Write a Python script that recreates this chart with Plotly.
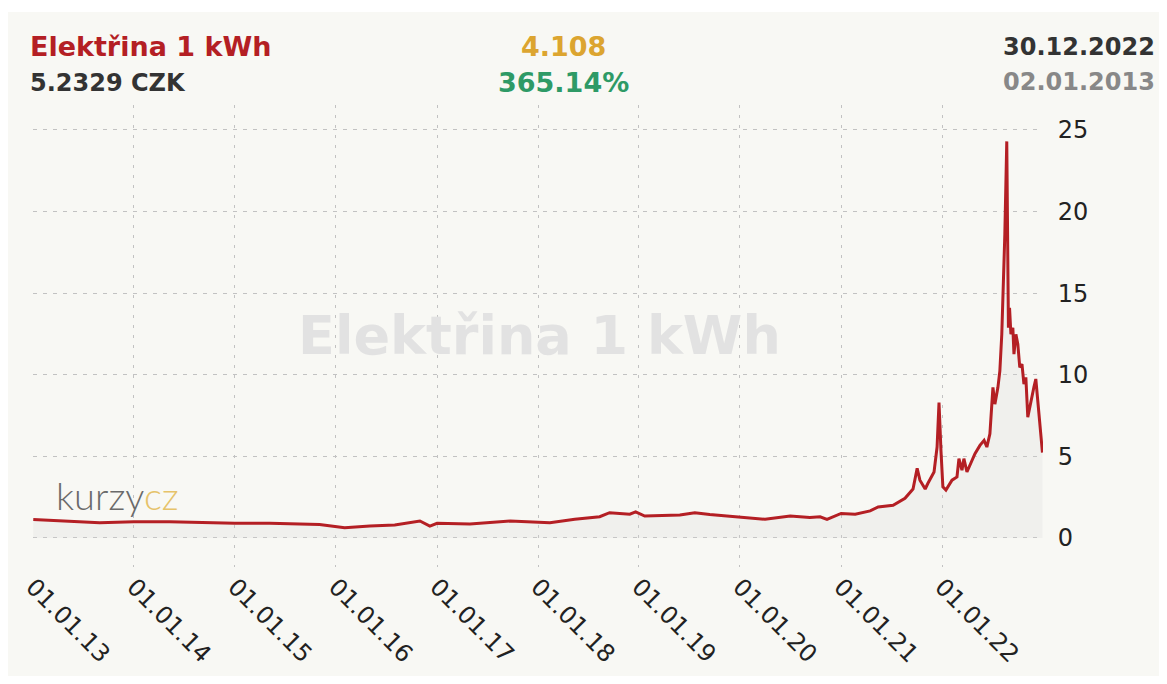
import plotly.graph_objects as go

# price of 1 kWh in CZK
dates = [
    '2013-01-02', '2013-04-08', '2013-08-30', '2014-01-01', '2014-05-10',
    '2015-01-01', '2015-05-07', '2015-11-03', '2016-02-02', '2016-05-03',
    '2016-08-01', '2016-10-31', '2016-12-06', '2017-01-01', '2017-04-30',
    '2017-09-22', '2018-02-13', '2018-05-14', '2018-08-12', '2018-09-17',
    '2018-11-29', '2018-12-20', '2019-01-22', '2019-05-29', '2019-07-22',
    '2019-09-14', '2020-01-01', '2020-04-01', '2020-07-01', '2020-09-10',
    '2020-10-17', '2020-11-11', '2021-01-01', '2021-02-21', '2021-04-16',
    '2021-05-15', '2021-07-08', '2021-08-20', '2021-09-18', '2021-10-03',
    '2021-10-13', '2021-11-01', '2021-11-11', '2021-12-03', '2021-12-14',
    '2021-12-21', '2021-12-28', '2022-01-04', '2022-01-15', '2022-02-06',
    '2022-02-24', '2022-03-03', '2022-03-14', '2022-03-21', '2022-04-01',
    '2022-04-30', '2022-05-18', '2022-06-02', '2022-06-12', '2022-06-23',
    '2022-07-04', '2022-07-11', '2022-07-22', '2022-07-29', '2022-08-05',
    '2022-08-16', '2022-08-23', '2022-08-25', '2022-08-29', '2022-09-02',
    '2022-09-07', '2022-09-14', '2022-09-18', '2022-09-25', '2022-10-02',
    '2022-10-09', '2022-10-17', '2022-10-24', '2022-10-31', '2022-11-07',
    '2022-11-18', '2022-11-29', '2022-12-06', '2022-12-13', '2022-12-20',
    '2022-12-27', '2022-12-30',
]
prices = [
    1.125, 1.04, 0.93, 1.0, 1.0,
    0.9, 0.9, 0.83, 0.63, 0.73,
    0.79, 1.04, 0.73, 0.9, 0.85,
    1.04, 0.93, 1.14, 1.3, 1.55,
    1.46, 1.6, 1.34, 1.4, 1.55,
    1.43, 1.26, 1.14, 1.34, 1.26,
    1.3, 1.14, 1.5, 1.46, 1.66,
    1.9, 2.0, 2.43, 3.0, 4.27,
    3.54, 3.0, 3.35, 4.04, 5.57,
    8.3, 5.37, 3.13, 2.93, 3.54,
    3.74, 4.86, 4.15, 4.86, 4.04,
    5.16, 5.67, 5.98, 5.57, 6.38,
    9.23, 8.2, 9.23, 10.24, 12.48,
    18.6, 24.3, 17.56, 12.88, 14.1,
    12.48, 12.88, 11.26, 12.48, 11.87,
    10.45, 10.65, 9.43, 9.84, 7.4,
    8.41, 9.23, 9.74, 8.41, 6.79,
    5.77, 5.2329,
]

year_ticks = ['%d-01-01' % y for y in range(2013, 2024)]
year_labels = ['01.01.%02d' % (y % 100) for y in range(2013, 2023)] + ['']

title = 'Elektřina 1 kWh'
last_price = '5.2329 CZK'
change_abs = '4.108'
change_pct = '365.14%'
last_date = '30.12.2022'
first_date = '02.01.2013'

# page body has an 8px margin, positions below are page pixels
OFF = 8
W, H = 1167 - 2 * OFF, 684 - 2 * OFF
L, R, T, B = 33, 1043, 105, 567


def px(x):
    return (x - L) / (R - L)


def py(y):
    return (B - y) / (B - T)


FONT = 'DejaVu Sans, Verdana, sans-serif'
RED = '#b41f24'

fig = go.Figure()
fig.add_scatter(
    x=dates, y=prices, mode='lines',
    line=dict(color=RED, width=3),
    fill='tozeroy', fillcolor='rgba(215,215,215,0.22)',
    hoverinfo='skip', showlegend=False,
)

fig.update_xaxes(
    type='date', range=['2013-01-01', '2023-01-01'],
    tickvals=year_ticks, ticktext=year_labels, tickangle=45,
    ticks='', tickfont=dict(family=FONT, size=24, color='#222'),
    showgrid=True, gridcolor='#c2c2c2', gridwidth=1, griddash='3px,7px',
    zeroline=False, showline=False, automargin=False,
)
fig.update_yaxes(
    range=[-1.78, 26.53], side='right',
    tickvals=[0, 5, 10, 15, 20, 25],
    ticks='outside', ticklen=9, tickcolor='rgba(0,0,0,0)',
    tickfont=dict(family=FONT, size=24, color='#222'),
    showgrid=True, gridcolor='#c2c2c2', gridwidth=1, griddash='4px,6px',
    zeroline=False, showline=False, automargin=False,
)

ann = []


def text(s, x, y, anchor, size, color, bold=True):
    ann.append(dict(
        text='<b>%s</b>' % s if bold else s, x=px(x), y=py(y),
        xref='paper', yref='paper', xanchor=anchor, yanchor='middle',
        showarrow=False, font=dict(family=FONT, size=size, color=color),
    ))


text(title, 28, 47, 'left', 27, RED)
text(last_price, 28, 83, 'left', 24, '#333')
text(change_abs, 563, 47, 'center', 27, '#dca530')
text(change_pct, 563, 82, 'center', 27, '#2e9a66')
text(last_date, 1157, 47, 'right', 24, '#333')
text(first_date, 1157, 82, 'right', 24, '#888')
text(title, 539, 335, 'center', 54, '#e2e2e2')
ann.append(dict(
    text='<span style="color:#6a6a6a">kurzy</span><span style="color:#e6c36a">cz</span>',
    x=px(54), y=py(495), xref='paper', yref='paper', xanchor='left', yanchor='middle',
    showarrow=False, font=dict(family='Lato, sans-serif', size=38, weight=300),
))

fig.update_layout(
    width=W, height=H,
    margin=dict(l=L - OFF, r=W + OFF - R, t=T - OFF, b=H + OFF - B),
    paper_bgcolor='white', plot_bgcolor='rgba(0,0,0,0)',
    annotations=ann,
    shapes=[dict(type='rect', xref='paper', yref='paper', layer='below',
                 x0=px(8), x1=px(1160), y0=py(700), y1=py(12),
                 fillcolor='#f8f8f4', line=dict(width=0))],
)

fig.write_html('out.html')
